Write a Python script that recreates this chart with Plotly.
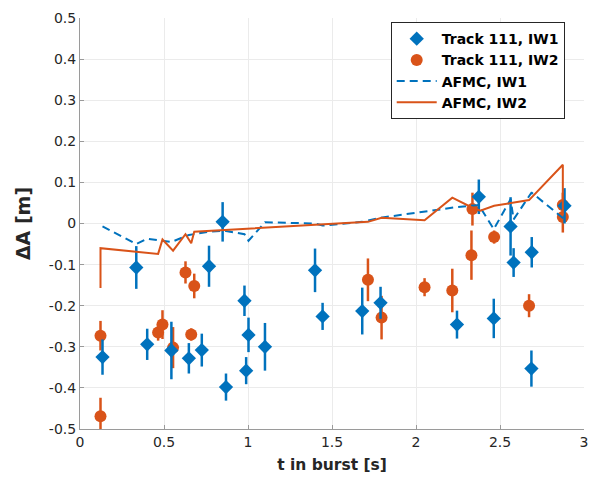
import plotly.graph_objects as go

# Track 111, IW1 measurements
t_iw1 = [0.134, 0.335, 0.400, 0.544, 0.648, 0.725, 0.768, 0.849, 0.869, 0.979, 0.989, 1.003,
         1.101, 1.399, 1.444, 1.680, 1.789, 2.244, 2.374, 2.463, 2.563, 2.581, 2.687, 2.689, 2.884]
dA_iw1 = [-0.325, -0.107, -0.294, -0.309, -0.328, -0.308, -0.104, 0.004, -0.398, -0.188, -0.358, -0.271,
          -0.300, -0.114, -0.226, -0.213, -0.193, -0.246, 0.065, -0.231, -0.007, -0.095, -0.353, -0.070, 0.043]
err_iw1 = [0.043, 0.052, 0.038, 0.070, 0.037, 0.040, 0.050, 0.048, 0.033, 0.037, 0.033, 0.042,
           0.058, 0.053, 0.033, 0.057, 0.039, 0.034, 0.042, 0.048, 0.071, 0.035, 0.044, 0.037, 0.043]

# Track 111, IW2 measurements
t_iw2 = [0.122, 0.122, 0.465, 0.491, 0.554, 0.628, 0.662, 0.680, 1.714, 1.795, 2.051, 2.216,
         2.330, 2.336, 2.465, 2.673, 2.874, 2.874]
dA_iw2 = [-0.273, -0.469, -0.265, -0.246, -0.302, -0.119, -0.270, -0.152, -0.137, -0.229, -0.155, -0.163,
          -0.077, 0.035, -0.033, -0.200, 0.045, 0.016]
err_iw2 = [0.036, 0.045, 0.020, 0.035, 0.050, 0.027, 0.015, 0.030, 0.052, 0.053, 0.022, 0.053,
           0.060, 0.040, 0.016, 0.028, 0.030, 0.038]

# AFMC model curves
t_afmc1 = [0.134, 0.335, 0.400, 0.544, 0.648, 0.725, 0.768, 0.849, 0.869, 0.979, 0.989, 1.003,
           1.101, 1.399, 1.444, 1.680, 1.789, 2.244, 2.374, 2.463, 2.563, 2.581, 2.687, 2.689, 2.884]
dA_afmc1 = [-0.007, -0.050, -0.037, -0.045, -0.028, -0.022, -0.020, -0.018, -0.018, -0.026, -0.032, -0.042,
            0.003, 0.000, -0.005, 0.004, 0.014, 0.040, 0.045, -0.014, 0.059, 0.010, 0.075, 0.075, 0.010]

t_afmc2 = [0.122, 0.122, 0.465, 0.491, 0.554, 0.628, 0.662, 0.680, 1.714, 1.795, 2.051, 2.216,
           2.333, 2.383, 2.465, 2.673, 2.874, 2.874]
dA_afmc2 = [-0.157, -0.060, -0.074, -0.039, -0.066, -0.026, -0.048, -0.020, 0.004, 0.014, 0.008, 0.063,
            0.039, 0.031, 0.043, 0.057, 0.143, 0.020]

x_ticks = [0, 0.5, 1, 1.5, 2, 2.5, 3]
x_tick_text = ["0", "0.5", "1", "1.5", "2", "2.5", "3"]
y_ticks = [-0.5, -0.4, -0.3, -0.2, -0.1, 0, 0.1, 0.2, 0.3, 0.4, 0.5]
y_tick_text = ["-0.5", "-0.4", "-0.3", "-0.2", "-0.1", "0", "0.1", "0.2", "0.3", "0.4", "0.5"]

BLUE = "#0072BD"
ORANGE = "#D95319"
FONT = "DejaVu Sans"

fig = go.Figure()

fig.add_trace(go.Scatter(
    x=t_iw2, y=dA_iw2, mode="markers", name="Track 111, IW2", legendrank=2,
    marker=dict(symbol="circle", size=12, color=ORANGE),
    error_y=dict(type="data", array=err_iw2, color=ORANGE, thickness=2.5, width=0),
))
fig.add_trace(go.Scatter(
    x=t_iw1, y=dA_iw1, mode="markers", name="Track 111, IW1", legendrank=1,
    marker=dict(symbol="diamond", size=11, color=BLUE),
    error_y=dict(type="data", array=err_iw1, color=BLUE, thickness=2.5, width=0),
))
fig.add_trace(go.Scatter(
    x=t_afmc1, y=dA_afmc1, mode="lines", name="AFMC, IW1", legendrank=3,
    line=dict(color=BLUE, width=2, dash="8px,5px"),
))
fig.add_trace(go.Scatter(
    x=t_afmc2, y=dA_afmc2, mode="lines", name="AFMC, IW2", legendrank=4,
    line=dict(color=ORANGE, width=2),
))

axis_common = dict(
    showgrid=True, gridcolor="#ebebeb", gridwidth=1,
    showline=True, linecolor="#9a9a9a", linewidth=1,
    ticks="inside", ticklen=4, tickcolor="#9a9a9a",
    zeroline=False, mirror=False,
    tickfont=dict(family=FONT, size=14, color="#262626"),
)

fig.update_xaxes(
    range=[0, 3], tickvals=x_ticks, ticktext=x_tick_text,
    title=dict(text="<b>t in burst [s]</b>", font=dict(family=FONT, size=15.5, color="#262626"), standoff=10),
    **axis_common,
)
fig.update_yaxes(
    range=[-0.5, 0.5], tickvals=y_ticks, ticktext=y_tick_text,
    title=dict(text="<b>ΔA [m]</b>", font=dict(family=FONT, size=19, color="#262626"), standoff=13),
    **axis_common,
)

fig.update_layout(
    width=598, height=482,
    margin=dict(l=80, r=10, t=14, b=53),
    paper_bgcolor="white", plot_bgcolor="white",
    showlegend=True,
    legend=dict(
        x=0.6165, y=0.99, xanchor="left", yanchor="top",
        bgcolor="white", bordercolor="#262626", borderwidth=1,
        font=dict(family=FONT, size=14, color="#000000", weight="bold"),
        itemwidth=40, tracegroupgap=0,
    ),
)

fig.write_html("out.html")
